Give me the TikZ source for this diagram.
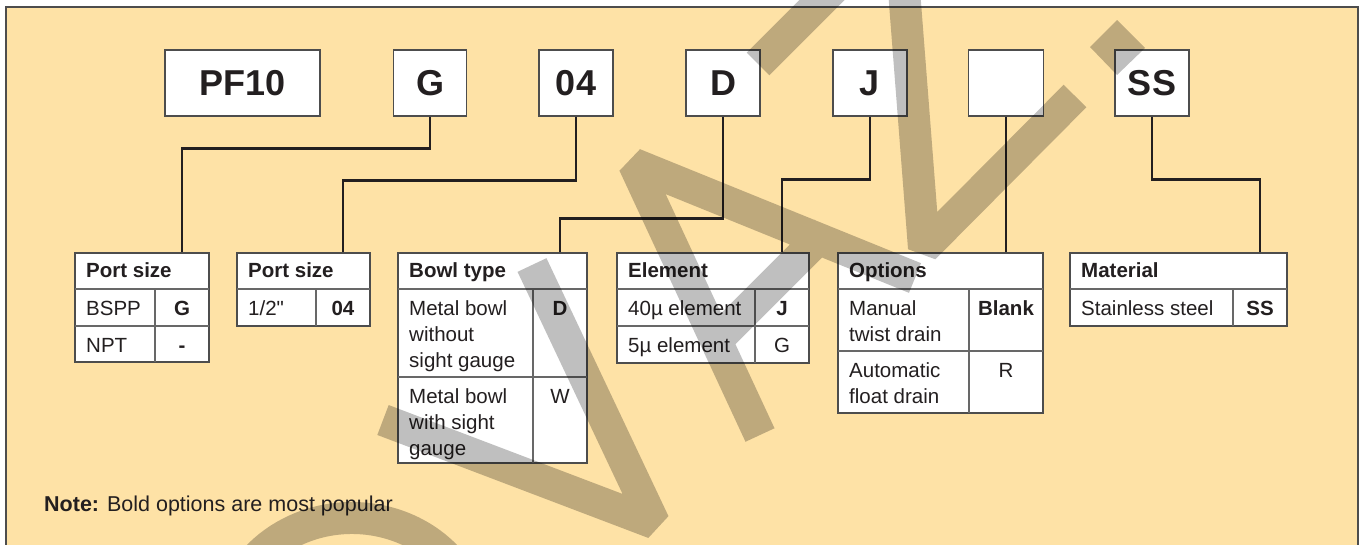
\documentclass[tikz,border=0pt]{standalone}
\usepackage{fontspec}
\setmainfont{Liberation Sans}[Ligatures=TeXOff]
\usepackage{tikz}
\definecolor{panel}{RGB}{254,226,166}
\definecolor{rim}{RGB}{77,77,77}
\definecolor{ink}{RGB}{35,31,32}
\newcommand{\tabfont}{\fontsize{20.5}{26}\selectfont}
\tikzset{
  codebox/.style={draw=rim, line width=1.4pt, fill=white, minimum height=66pt,
    inner sep=0pt, text=ink, font=\fontsize{36}{40}\selectfont\bfseries},
  link/.style={draw=ink, line width=2.5pt},
  tabframe/.style={draw=rim, line width=1.5pt, fill=white},
  gridline/.style={draw=rim!85, line width=1.1pt},
  headtxt/.style={anchor=base west, inner sep=0pt, text=ink, font=\tabfont\bfseries},
  celltxt/.style={anchor=base west, inner sep=0pt, align=left, text=ink, font=\tabfont},
  codetxt/.style={anchor=base, inner sep=0pt, text=ink, font=\tabfont},
  stamp/.style={draw=black, opacity=.25, line width=32pt}
}

\begin{document}
\begin{tikzpicture}[x=1pt, y=-1pt]
  \useasboundingbox (0,0) rectangle (1361,544);
  \draw[draw=rim, line width=1.5pt, fill=panel] (6,7) rectangle (1358,600);

  % order code
  \node[codebox, minimum width=155pt] (boxPF) at (242.5,83) {PF10};
  \node[codebox, minimum width=73pt] (boxThread) at (430,83) {G};
  \node[codebox, minimum width=74pt] (boxPort) at (576,83) {04};
  \node[codebox, minimum width=74pt] (boxBowl) at (723,83) {D};
  \node[codebox, minimum width=74pt] (boxElem) at (870,83) {J};
  \node[codebox, minimum width=75pt] (boxOpt) at (1006,83) {};
  \node[codebox, minimum width=74pt] (boxMat) at (1152,83) {SS};

  \coordinate (inThread) at (182,253);
  \coordinate (inPort) at (343,253);
  \coordinate (inBowl) at (560,253);
  \coordinate (inElem) at (782,253);
  \coordinate (inOpt) at (1006,253);
  \coordinate (inMat) at (1260,253);

  \draw[link] (boxThread.south) -- ++(0,32) -| (inThread);
  \draw[link] (boxPort.south) -- ++(0,64) -| (inPort);
  \draw[link] (boxBowl.south) -- ++(0,102) -| (inBowl);
  \draw[link] (boxElem.south) -- ++(0,63) -| (inElem);
  \draw[link] (boxOpt.south) -- (inOpt);
  \draw[link] (boxMat.south) -- ++(0,63) -| (inMat);

  % port thread
  \draw[tabframe] (75,253) rectangle (209,362);
  \draw[gridline] (75,289) -- (209,289) (75,326) -- (209,326) (155,289) -- (155,362);
  \node[headtxt] (hdThread) at (86,277) {Port size};
  \node[celltxt] (bspp) at (86,315) {BSPP};
  \node[codetxt] (cdBspp) at (182,315) {\bfseries G};
  \node[celltxt] (npt) at (86,352) {NPT};
  \node[codetxt] (cdNpt) at (182,352) {\bfseries -};

  % port size
  \draw[tabframe] (237,253) rectangle (370,326);
  \draw[gridline] (237,289) -- (370,289) (316,289) -- (316,326);
  \node[headtxt] (hdPort) at (248,277) {Port size};
  \node[celltxt] (half) at (248,315) {1/2"};
  \node[codetxt] (cdHalf) at (343,315) {\bfseries 04};

  % bowl (multi-line cells sit on their last baseline)
  \draw[tabframe] (398,253) rectangle (587,463);
  \draw[gridline] (398,289) -- (587,289) (398,377) -- (587,377) (533,289) -- (533,463);
  \node[headtxt] (hdBowl) at (409,277) {Bowl type};
  \node[celltxt] (plain) at (409,367) {Metal bowl\\without\\sight gauge};
  \node[codetxt] (cdPlain) at (560,315) {\bfseries D};
  \node[celltxt] (gauge) at (409,455) {Metal bowl\\with sight\\gauge};
  \node[codetxt] (cdGauge) at (560,403) {W};

  % element
  \draw[tabframe] (617,253) rectangle (809,363);
  \draw[gridline] (617,289) -- (809,289) (617,326) -- (809,326) (755,289) -- (755,363);
  \node[headtxt] (hdElem) at (628,277) {Element};
  \node[celltxt] (elemA) at (628,315) {40µ element};
  \node[codetxt] (cdElemA) at (782,315) {\bfseries J};
  \node[celltxt] (elemB) at (628,352) {5µ element};
  \node[codetxt] (cdElemB) at (782,352) {G};

  % options
  \draw[tabframe] (838,253) rectangle (1043,413);
  \draw[gridline] (838,289) -- (1043,289) (838,351) -- (1043,351) (969,289) -- (969,413);
  \node[headtxt] (hdOpt) at (849,277) {Options};
  \node[celltxt] (manual) at (849,341) {Manual\\twist drain};
  \node[codetxt] (cdManual) at (1006,315) {\bfseries Blank};
  \node[celltxt] (autodrain) at (849,403) {Automatic\\float drain};
  \node[codetxt] (cdAuto) at (1006,377) {R};

  % material
  \draw[tabframe] (1070,253) rectangle (1287,326);
  \draw[gridline] (1070,289) -- (1287,289) (1233,289) -- (1233,326);
  \node[headtxt] (hdMat) at (1081,277) {Material};
  \node[celltxt] (steel) at (1081,315) {Stainless steel};
  \node[codetxt] (cdSteel) at (1260,315) {\bfseries SS};

  \node[anchor=base west, inner sep=0pt, text=ink, font=\fontsize{21.5}{26}\selectfont]
    (note) at (44,511) {\textbf{Note:} Bold options are most popular};

  % watermark
  \draw[stamp, line join=bevel] (760,435) -- (634,164) -- (915,278)
    (712,345) -- (826,231)
    (904,-10) -- (924,248) -- (1075,96)
    (758,64) -- (850,-28)
    (532,265) -- (654,523) -- (383,420);
  \draw[stamp] (352,631) ++(-165:125 and 113) arc[start angle=-165, end angle=-15, x radius=125, y radius=113];
  \fill[black, opacity=.25] (1090,47) -- (1117,20) -- (1145,48) -- (1117,75) -- cycle;
\end{tikzpicture}
\end{document}
